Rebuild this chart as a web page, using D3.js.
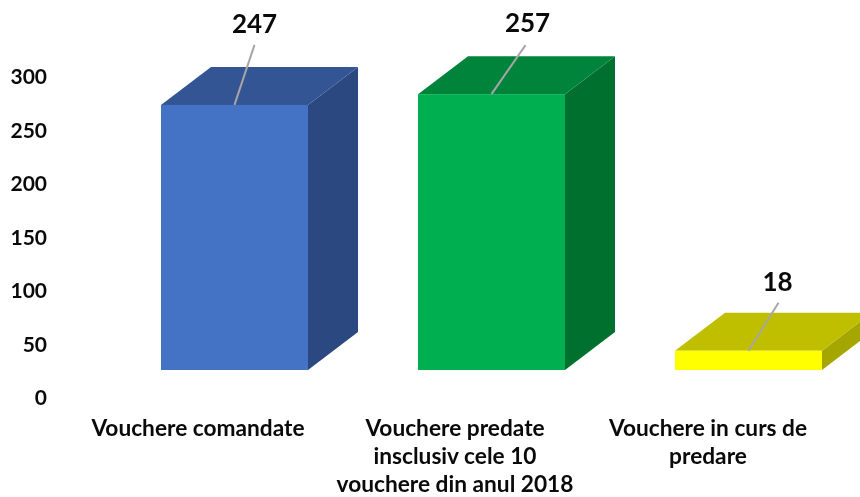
<!DOCTYPE html>
<html><head><meta charset="utf-8">
<script src="https://cdn.jsdelivr.net/npm/d3@7"></script>
<style>html,body{margin:0;padding:0;background:#fff}svg{display:block;filter:blur(0.4px)}text{font-family:Lato,"Open Sans",sans-serif;font-weight:700;fill:#0a0a0a}</style>
</head><body><div id="c"></div>
<script>
const categories = ["Vouchere comandate","Vouchere predate inclusiv","Vouchere in curs de predare"];
const categoryLines = [["Vouchere comandate"],["Vouchere predate","insclusiv cele 10","vouchere din anul 2018"],["Vouchere in curs de","predare"]];
const values = [247,257,18];
const tickValues = [0,50,100,150,200,250,300];
const frontColors = ["#4472c4","#00b050","#ffff00"];
const topColors = ["#335593","#00843c","#bfbf00"];
const sideColors = ["#2b4880","#00702f","#a6a600"];

const W=860,H=497;
const svg=d3.select("#c").append("svg").attr("width",W).attr("height",H);
const x=d3.scaleBand().domain(categories).range([106,877]).paddingInner(0.428).paddingOuter(0.214);
const yTicks=d3.scaleLinear().domain([0,300]).range([398,77]);
const y=d3.scaleLinear().domain([0,300]).range([370,48]);
const dx=50, dy=38;
const barTop=v=>y(v), base=y(0);
const poly=pts=>pts.map(p=>p.join(",")).join(" ");

const bars=svg.selectAll("g.bar").data(categories).join("g").attr("class","bar");
bars.append("polygon").attr("fill",(d,i)=>sideColors[i]).attr("points",(d,i)=>{
  const r=x(d)+x.bandwidth(),t=barTop(values[i]);
  return poly([[r,t],[r+dx,t-dy],[r+dx,base-dy],[r,base]]);});
bars.append("polygon").attr("fill",(d,i)=>topColors[i]).attr("points",(d,i)=>{
  const l=x(d),r=l+x.bandwidth(),t=barTop(values[i]);
  return poly([[l,t],[l+dx,t-dy],[r+dx,t-dy],[r,t]]);});
bars.append("rect").attr("fill",(d,i)=>frontColors[i])
  .attr("x",d=>x(d)).attr("width",x.bandwidth())
  .attr("y",(d,i)=>barTop(values[i])).attr("height",(d,i)=>base-barTop(values[i]));

// value labels with leader lines
const leaderDx=[20,34,30], leaderLen=[60,49,48], labelDx=[20,36,29], labelAbove=[72,62,60];
bars.append("line").attr("stroke","#a6a6a6").attr("stroke-width",2)
  .attr("x1",d=>x(d)+x.bandwidth()/2).attr("y1",(d,i)=>barTop(values[i]))
  .attr("x2",(d,i)=>x(d)+x.bandwidth()/2+leaderDx[i]).attr("y2",(d,i)=>barTop(values[i])-leaderLen[i]);
bars.append("text").attr("text-anchor","middle").style("font-size","26px")
  .attr("x",(d,i)=>x(d)+x.bandwidth()/2+labelDx[i]).attr("y",(d,i)=>barTop(values[i])-labelAbove[i])
  .text((d,i)=>values[i]);

// y axis
const axis=d3.axisLeft(yTicks).tickValues(tickValues).tickSize(0).tickPadding(0);
const ga=svg.append("g").attr("transform","translate(47,0)").call(axis);
ga.select(".domain").remove();
ga.selectAll("text").style("font-size","21px").style("font-family",'Lato,sans-serif').attr("fill","#0a0a0a");

// category labels
const catLabelCx=[198,455,708];
svg.selectAll("text.cat").data(categories).join("text").attr("class","cat")
  .attr("text-anchor","middle").style("font-size","22.7px")
  .each(function(d,i){
    d3.select(this).selectAll("tspan").data(categoryLines[i]).join("tspan")
      .attr("x",catLabelCx[i]).attr("y",(l,j)=>436+j*28.2).text(l=>l);
  });
</script></body></html>
